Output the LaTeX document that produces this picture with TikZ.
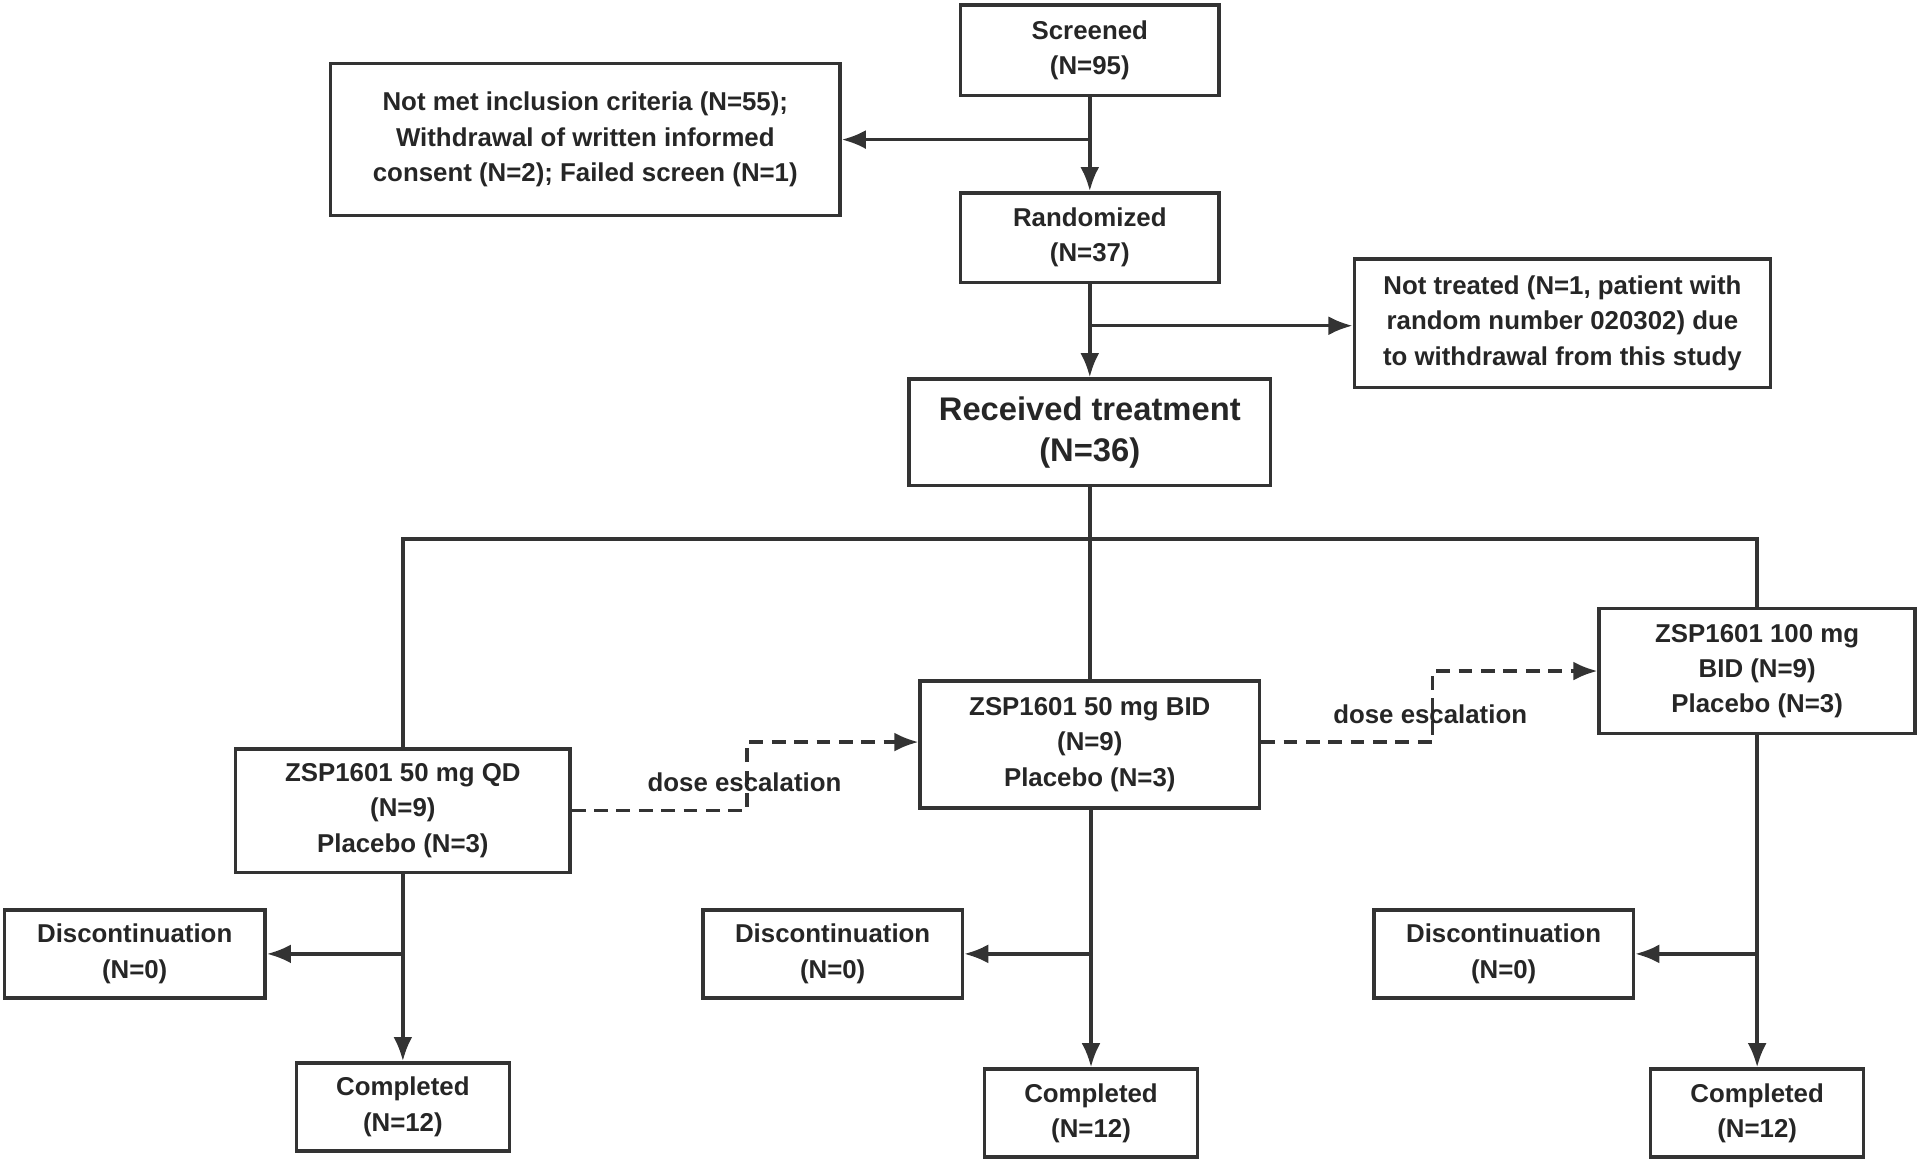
\documentclass[tikz,border=0pt]{standalone}
\usepackage{fontspec}
\setmainfont{Liberation Sans}
\usetikzlibrary{arrows.meta}
\begin{document}
\begin{tikzpicture}[x=0.025cm,y=-0.025cm,
  box/.style={draw=black!80,line width=2pt,align=center,inner sep=0pt,font=\bfseries\fontsize{15}{20.5}\selectfont,text=black!85},
  ln/.style={draw=black!80,line width=2pt},
  arr/.style={ln,-{Latex[length=14pt,width=11pt]}},
  dsh/.style={arr,dash pattern=on 8pt off 5pt},
  lbl/.style={font=\bfseries\fontsize{15}{20.5}\selectfont,text=black!85}]
\useasboundingbox (0,0) rectangle (1568,950);
\node[box,minimum width=211*0.025cm,minimum height=74*0.025cm] (scr) at (890,41) {Screened\\(N=95)};
\node[box,minimum width=416*0.025cm,minimum height=124*0.025cm] (exc) at (478,114) {Not met inclusion criteria (N=55);\\Withdrawal of written informed\\consent (N=2); Failed screen (N=1)};
\node[box,minimum width=211*0.025cm,minimum height=73*0.025cm] (ran) at (890,194) {Randomized\\(N=37)};
\node[box,minimum width=340*0.025cm,minimum height=105*0.025cm] (nt) at (1276,264) {Not treated (N=1, patient with\\random number 020302) due\\to withdrawal from this study};
\node[box,minimum width=295*0.025cm,minimum height=87*0.025cm,font=\bfseries\fontsize{19}{24}\selectfont] (rec) at (890,353) {Received treatment\\(N=36)};
\node[box,minimum width=273*0.025cm,minimum height=101*0.025cm] (qd) at (329,662) {ZSP1601 50 mg QD\\(N=9)\\Placebo (N=3)};
\node[box,minimum width=277*0.025cm,minimum height=104*0.025cm] (bid) at (890,608) {ZSP1601 50 mg BID\\(N=9)\\Placebo (N=3)};
\node[box,minimum width=258*0.025cm,minimum height=102*0.025cm] (hd) at (1435,548) {ZSP1601 100 mg\\BID (N=9)\\Placebo (N=3)};
\node[box,minimum width=213*0.025cm,minimum height=72*0.025cm] (d1) at (110,779) {Discontinuation\\(N=0)};
\node[box,minimum width=212*0.025cm,minimum height=72*0.025cm] (d2) at (680,779) {Discontinuation\\(N=0)};
\node[box,minimum width=212*0.025cm,minimum height=72*0.025cm] (d3) at (1228,779) {Discontinuation\\(N=0)};
\node[box,minimum width=174*0.025cm,minimum height=72*0.025cm] (c1) at (329,904) {Completed\\(N=12)};
\node[box,minimum width=174*0.025cm,minimum height=72*0.025cm] (c2) at (891,909) {Completed\\(N=12)};
\node[box,minimum width=174*0.025cm,minimum height=72*0.025cm] (c3) at (1435,909) {Completed\\(N=12)};
\coordinate (j1) at (890,114);
\coordinate (j2) at (890,266);
\draw[arr] (scr) -- (ran);
\draw[arr] (j1) -- (exc.east |- j1);
\draw[arr] (ran) -- (rec);
\draw[arr] (j2) -- (nt.west |- j2);
\coordinate (h) at (890,440);
\draw[ln] (rec.south) -- (h);
\draw[ln] (qd.north) -- (qd.north |- h) -- (hd.north |- h) -- (hd.north);
\draw[ln] (h) -- (bid.north);
\draw[dsh] (qd.east) -- (610,662) -- (610,606) -- (bid.west |- 0,606);
\node[lbl] (l1) at (608,639) {dose escalation};
\draw[dsh] (bid.east |- 0,606) -- (1170,606) -- (1170,548) -- (hd.west);
\node[lbl] (l2) at (1168,583) {dose escalation};
\draw[arr] (qd) -- (c1);
\draw[arr] (c2 |- bid.south) -- (c2);
\draw[arr] (hd) -- (c3);
\draw[arr] (329,779) -- (d1.east);
\draw[arr] (891,779) -- (d2.east);
\draw[arr] (1435,779) -- (d3.east);
\end{tikzpicture}
\end{document}
